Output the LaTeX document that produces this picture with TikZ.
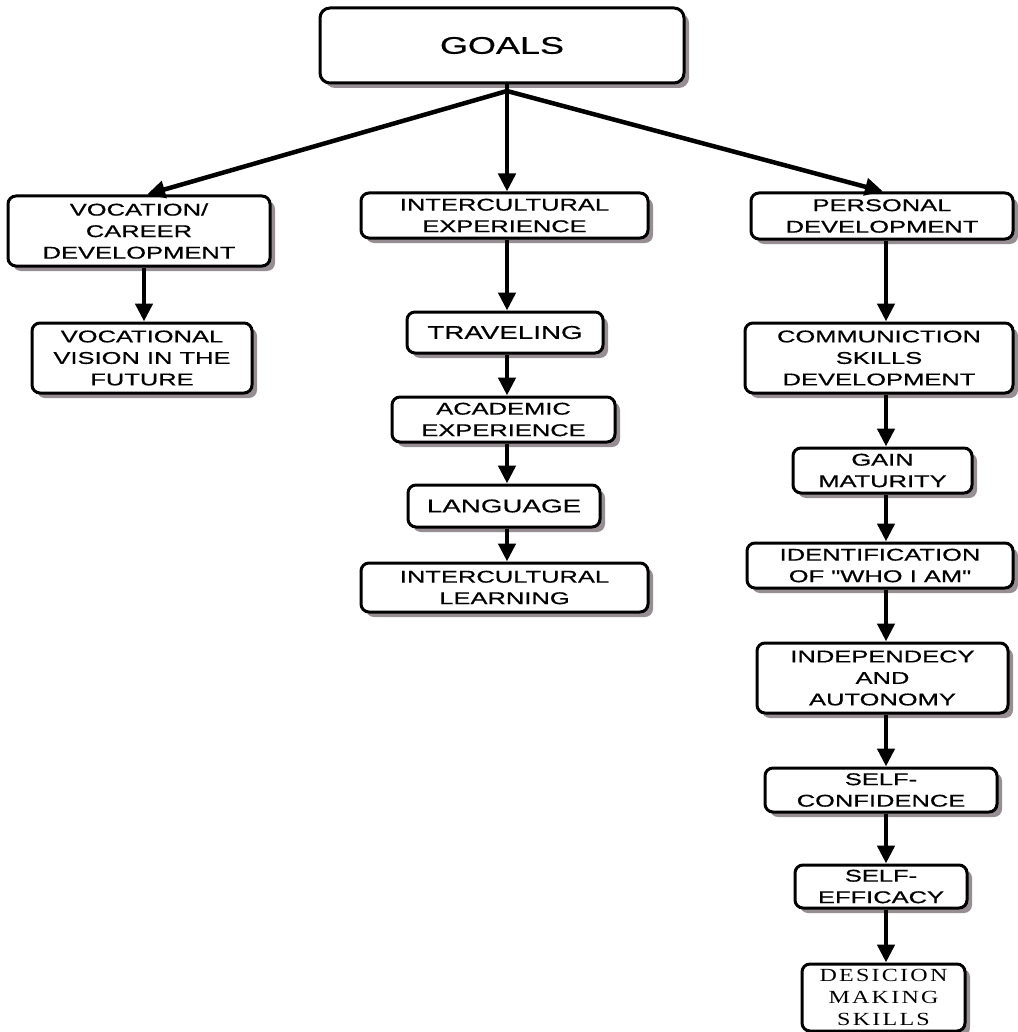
\documentclass[tikz,border=0pt]{standalone}
\usepackage{fontspec}
\setmainfont{Liberation Sans}
\newfontfamily\boxfont[FakeStretch=1.5,FakeBold=0.6]{Liberation Sans}
\newfontfamily\serifbox[FakeStretch=1.3,LetterSpace=12]{Liberation Serif}
\usetikzlibrary{arrows.meta,shadows}
\definecolor{shadowgray}{RGB}{150,142,146}
\begin{document}
\begin{tikzpicture}[x=1pt,y=-1pt,
  box/.style={draw=black, line width=3pt, rounded corners=8pt, fill=white,
    inner sep=0pt, align=center,
    drop shadow={shadow xshift=5pt, shadow yshift=-5pt, fill=shadowgray, opacity=1},
    font=\boxfont\fontsize{17}{21.5}\selectfont},
  bigtext/.style={font=\boxfont\fontsize{18.5}{22}\selectfont},
  arr/.style={line width=4.5pt, -{Triangle[width=17pt,length=18pt]}}]
\useasboundingbox (0,0) rectangle (1017,1032);

% column axes for the vertical connectors
\coordinate (colL) at (144,0);
\coordinate (colM) at (507,0);
\coordinate (colR) at (886,0);
\coordinate (hub) at (507,91);

% root
\node[box, rounded corners=10pt, minimum width=364pt, minimum height=75pt,
      font=\boxfont\fontsize{24}{28}\selectfont] (goals) at (502,45.5) {GOALS};

% left branch
\node[box, minimum width=262pt, minimum height=70pt] (voc) at (139,231)
  {VOCATION/\\CAREER\\DEVELOPMENT};
\node[box, minimum width=220pt, minimum height=70pt] (vvis) at (142,358)
  {VOCATIONAL\\VISION IN THE\\FUTURE};

% middle branch
\node[box, minimum width=287pt, minimum height=45pt] (icexp) at (504.5,215.5)
  {INTERCULTURAL\\EXPERIENCE};
\node[box, bigtext, minimum width=196pt, minimum height=41pt] (trav) at (505,332.5)
  {TRAVELING};
\node[box, minimum width=223pt, minimum height=45pt] (acad) at (503.5,419.5)
  {ACADEMIC\\EXPERIENCE};
\node[box, bigtext, minimum width=192pt, minimum height=42pt] (lang) at (504,506)
  {LANGUAGE};
\node[box, minimum width=287pt, minimum height=49pt] (iclearn) at (504.5,587.5)
  {INTERCULTURAL\\LEARNING};

% right branch
\node[box, minimum width=262pt, minimum height=46pt] (pers) at (882,216)
  {PERSONAL\\DEVELOPMENT};
\node[box, minimum width=268pt, minimum height=70pt] (comm) at (879,358)
  {COMMUNICTION\\SKILLS\\DEVELOPMENT};
\node[box, minimum width=179pt, minimum height=45pt] (gain) at (882.5,470.5)
  {GAIN\\MATURITY};
\node[box, minimum width=266pt, minimum height=45pt] (ident) at (880,565.5)
  {IDENTIFICATION\\OF "WHO I AM"};
\node[box, minimum width=251pt, minimum height=70pt] (indep) at (882.5,678)
  {INDEPENDECY\\AND\\AUTONOMY};
\node[box, minimum width=232pt, minimum height=44pt] (selfc) at (881,790)
  {SELF-\\CONFIDENCE};
\node[box, minimum width=172pt, minimum height=43pt] (selfe) at (881,886.5)
  {SELF-\\EFFICACY};
\node[box, minimum width=163pt, minimum height=67pt,
      font=\serifbox\fontsize{18.5}{21.7}\selectfont] (des) at (883.5,997.5)
  {DESICION\\MAKING\\SKILLS};

% connectors from the root
\draw[line width=4.5pt] (goals.south -| hub) -- (hub);
\draw[arr] (hub) -- (voc.north -| 147,0);
\draw[arr] (hub) -- (icexp.north -| colM);
\draw[arr] (hub) -- (pers.north -| 883,0);

% vertical chains
\draw[arr] (voc.south -| colL) -- (vvis.north -| colL);

\draw[arr] (icexp.south -| colM) -- (trav.north -| colM);
\draw[arr] (trav.south -| colM) -- (acad.north -| colM);
\draw[arr] (acad.south -| colM) -- (lang.north -| colM);
\draw[arr] (lang.south -| colM) -- (iclearn.north -| colM);

\draw[arr] (pers.south -| colR) -- (comm.north -| colR);
\draw[arr] (comm.south -| colR) -- (gain.north -| colR);
\draw[arr] (gain.south -| colR) -- (ident.north -| colR);
\draw[arr] (ident.south -| colR) -- (indep.north -| colR);
\draw[arr] (indep.south -| colR) -- (selfc.north -| colR);
\draw[arr] (selfc.south -| colR) -- (selfe.north -| colR);
\draw[arr] (selfe.south -| colR) -- (des.north -| colR);
\end{tikzpicture}
\end{document}
